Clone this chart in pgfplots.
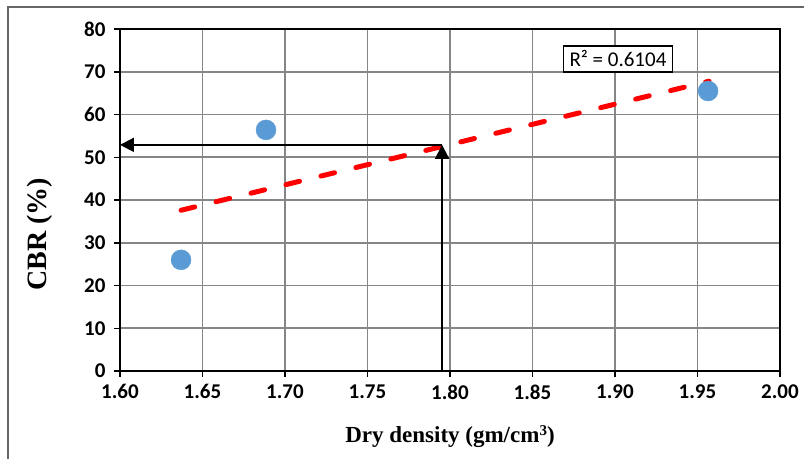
\documentclass[border=0pt]{standalone}
\usepackage{pgfplots}
\pgfplotsset{compat=1.18}
\usetikzlibrary{arrows.meta}
\usepackage{fontspec}
\setmainfont{Liberation Serif}
\newfontfamily\calfont{Carlito}
\definecolor{ptblue}{HTML}{5B9BD5}
\definecolor{gridgray}{HTML}{868686}
\begin{document}
\begin{tikzpicture}[x=1pt,y=1pt]
\useasboundingbox (-120,-88) rectangle (684,371);
\draw[gray!80!black,line width=1.5pt] (-112,-88) -- (-112,364) -- (684,364);
\begin{axis}[
  at={(0,0)}, anchor=south west,
  scale only axis, width=660pt, height=342pt,
  xmin=1.6, xmax=2.0, ymin=0, ymax=80,
  xtick={1.60,1.65,...,2.001}, ytick={0,10,...,80},
  xticklabel style={yshift=-4pt, /pgf/number format/.cd,fixed,fixed zerofill,precision=2},
  /pgf/number format/assume math mode=true,
  ticklabel style={font=\calfont\bfseries\fontsize{21}{24}\selectfont},
  yticklabel style={xshift=-5pt},
  tick style={black,line width=1.5pt},
  tick align=outside, major tick length=6pt,
  xtick pos=bottom, ytick pos=left,
  grid=major, major grid style={gridgray,line width=1.6pt},
  axis line style={black,line width=2pt},
  xlabel={Dry density (gm/cm{\fontsize{15}{15}\selectfont\raisebox{7pt}{3}})},
  ylabel={\fontsize{28}{32}\selectfont\bfseries CBR (\%)},
  xlabel style={font=\bfseries\fontsize{23}{26}\selectfont, at={(axis description cs:0.5,-0.193)}, anchor=center},
  ylabel style={at={(axis description cs:-0.1212,0.40)}, anchor=center},
  clip=false,
]
% trendline
\addplot[red, line width=5pt, dash pattern=on 14pt off 22pt, line cap=round] coordinates {(1.637,37.6) (1.957,67.8)};
% data points
\addplot[only marks, mark=*, color=ptblue, mark size=10pt, mark options={fill=ptblue, draw=ptblue}] coordinates {
(1.637,26.0) (1.6885,56.4) (1.9564,65.5)};
% arrows
\addplot[black, line width=2pt, -{Triangle[length=14pt,width=14pt]}] coordinates {(1.7952,0) (1.7952,52.9)};
\addplot[black, line width=2pt, -{Triangle[length=14pt,width=14pt]}] coordinates {(1.7952,52.9) (1.6,52.9)};
\node[draw=black, line width=1.8pt, fill=white, inner xsep=6pt, inner ysep=5pt, font=\calfont\fontsize{21}{24}\selectfont] at (axis cs:1.9018,73.0) {R² = 0.6104};
\end{axis}
\end{tikzpicture}
\end{document}
